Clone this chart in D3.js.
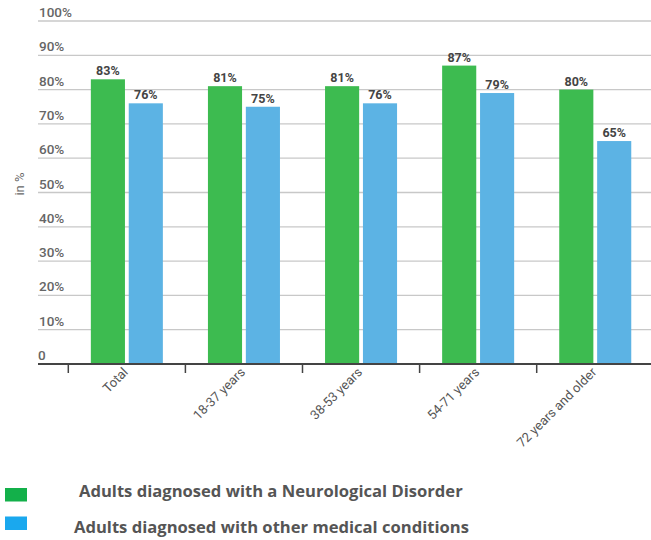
<!DOCTYPE html>
<html>
<head>
<meta charset="utf-8">
<script src="https://cdn.jsdelivr.net/npm/d3@7"></script>
<style>
  html, body { margin: 0; padding: 0; background: #fff; }
  svg { display: block; }
  text { font-family: Roboto, "Open Sans", sans-serif; }
  text.legend { font-family: "Open Sans", sans-serif; }
</style>
</head>
<body>
<svg id="chart" width="651" height="540"></svg>
<script>
const categories = ["Total", "18-37 years", "38-53 years", "54-71 years", "72 years and older"];
const seriesNames = ["Adults diagnosed with a Neurological Disorder", "Adults diagnosed with other medical conditions"];
const neurological = [83, 81, 81, 87, 80];
const otherConditions = [76, 75, 76, 79, 65];
const yTicks = [0, 10, 20, 30, 40, 50, 60, 70, 80, 90, 100];
const barColors = ["#3dbb50", "#5cb3e4"];
const legendColors = ["#13b04a", "#1aa8ee"];

const svg = d3.select("#chart");
const seriesValues = [neurological, otherConditions];

const y = d3.scaleLinear().domain([0, 100]).range([364, 21]);
const x0 = d3.scaleBand().domain(categories).range([68.3, 653.8])
  .paddingInner(0.385).paddingOuter(0.1925);
const x1 = d3.scaleBand().domain([0, 1]).range([0, x0.bandwidth()]).paddingInner(0.1);

// gridlines
svg.append("g").selectAll("line").data(yTicks.filter(d => d > 0)).join("line")
  .attr("x1", 38).attr("x2", 651)
  .attr("y1", d => y(d)).attr("y2", d => y(d))
  .attr("stroke", "#c8c8c8").attr("stroke-width", 1.3);

// y tick labels
svg.append("g").selectAll("text").data(yTicks).join("text")
  .attr("x", d => d === 0 ? 38 : 39)
  .attr("y", d => y(d) - 4)
  .attr("font-size", 13.5).attr("font-weight", 500)
  .attr("fill", "#666")
  .text(d => d === 0 ? "0" : d + "%");

// y axis title
svg.append("text")
  .attr("transform", "translate(24,184) rotate(-90)")
  .attr("text-anchor", "middle")
  .attr("font-size", 13).attr("fill", "#666")
  .text("in %");

// bars
const groups = svg.append("g").selectAll("g").data(categories).join("g")
  .attr("transform", d => `translate(${x0(d)},0)`);

groups.selectAll("rect").data((c, i) => seriesValues.map((s, k) => ({ k, v: s[i] }))).join("rect")
  .attr("x", d => x1(d.k))
  .attr("width", x1.bandwidth())
  .attr("y", d => y(d.v))
  .attr("height", d => y(0) - y(d.v))
  .attr("fill", d => barColors[d.k]);

groups.selectAll("text.val").data((c, i) => seriesValues.map((s, k) => ({ k, v: s[i] }))).join("text")
  .attr("class", "val")
  .attr("x", d => x1(d.k) + x1.bandwidth() / 2)
  .attr("y", d => y(d.v) - 4)
  .attr("text-anchor", "middle")
  .attr("font-size", 12.5).attr("font-weight", 700)
  .attr("fill", "#444")
  .text(d => d.v + "%");

// baseline
svg.append("line")
  .attr("x1", 38).attr("x2", 651)
  .attr("y1", y(0)).attr("y2", y(0))
  .attr("stroke", "#444").attr("stroke-width", 2);

// x ticks at band boundaries
const step = x0.step();
svg.append("g").selectAll("line").data(categories).join("line")
  .attr("x1", d => x0(d) - x0.paddingOuter() * step)
  .attr("x2", d => x0(d) - x0.paddingOuter() * step)
  .attr("y1", y(0)).attr("y2", y(0) + 9)
  .attr("stroke", "#444").attr("stroke-width", 1.5);

// category labels
svg.append("g").selectAll("text").data(categories).join("text")
  .attr("transform", d => `translate(${x0(d) + x0.bandwidth() / 2 + 2},${y(0) + 9}) rotate(-45)`)
  .attr("text-anchor", "end")
  .attr("font-size", 13).attr("fill", "#555")
  .text(d => d);

// legend
const legend = svg.append("g").selectAll("g").data(seriesNames).join("g");
legend.append("rect")
  .attr("x", 5).attr("y", (d, i) => 488 + i * 28.5)
  .attr("width", 22).attr("height", 13.5)
  .attr("fill", (d, i) => legendColors[i]);
legend.append("text")
  .attr("class", "legend")
  .attr("x", (d, i) => i === 0 ? 79 : 74)
  .attr("y", (d, i) => i === 0 ? 497 : 533)
  .attr("font-size", 16.6).attr("font-weight", 700)
  .attr("fill", "#555")
  .text(d => d);
</script>
</body>
</html>
